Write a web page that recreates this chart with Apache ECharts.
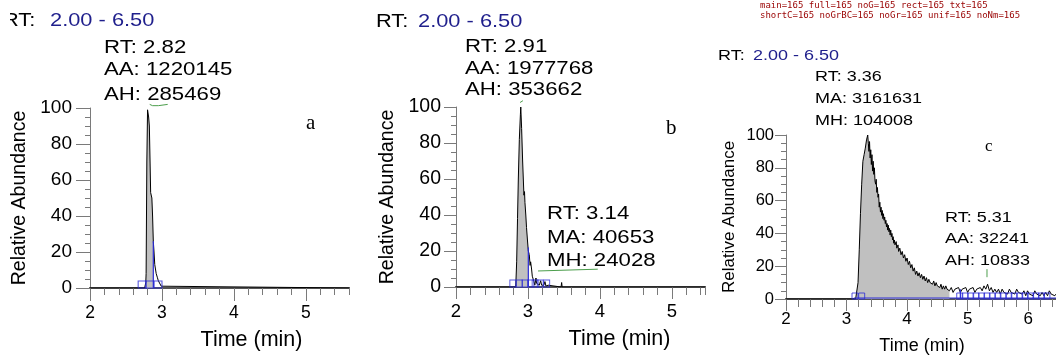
<!DOCTYPE html>
<html>
<head>
<meta charset="utf-8">
<script src="https://cdn.jsdelivr.net/npm/echarts@6.0.0/dist/echarts.min.js"></script>
<style>
  html, body { margin: 0; padding: 0; background: #fff; overflow: hidden; }
  #chart { width: 1056px; height: 356px; }
  .probe { width: 1056px; height: 356px; position: absolute; left: 0; top: 2000px; }
  #dbg { position: absolute; left: 760px; top: 0; font: 9px monospace; white-space: pre; color: #900; }
</style>
</head>
<body>
<div id="chart"></div>
<div id="probes"></div>
<div id="dbg"></div>
<script>
// ---- panel a : RT 2.82
const timeA  = [2.00, 2.76, 2.775, 2.78, 2.79, 2.80, 2.805, 2.815, 2.825, 2.835, 2.843, 2.86, 2.87, 2.88, 2.89, 2.90, 2.92, 2.935, 2.95, 2.97, 2.99, 3.01, 5.60];
const abundA = [0,    0,    3,     8,    70,   99,   100,   95,    90,    70,    53,    50,   40,   26,   20,   13,   8,    6,     4,    3,    1,    0,    0];
const fillA  = [2.775, 2.88];
const cutA   = [2.88, 26];
const boxesA = [2.725, 2.83, 2.945];
const greenAT = [2.83, 2.87, 2.95, 3.08];
const greenAV = [102, 101.3, 101.3, 102];

// ---- panel b : RT 2.91 / 3.14
const timeB  = [2.00, 2.83, 2.843, 2.855, 2.866, 2.88, 2.895, 2.90, 2.912, 2.926,
                2.944, 2.952, 2.958, 2.97, 2.98, 2.995, 3.005, 3.018, 3.03, 3.037,
                3.05, 3.06, 3.074, 3.083, 3.095, 3.111, 3.12, 3.13, 3.157, 3.176,
                3.19, 3.20, 3.22, 3.236, 3.25, 3.28, 3.305, 3.46, 3.468, 3.475, 5.46];
const abundB = [0, 0, 14, 38, 60, 82, 96, 100, 88, 70,
                51, 53, 47, 40, 33, 25, 20, 18, 12, 14,
                10, 6, 7, 3, 1, 5, 2, 2, 1, 3.5,
                1, 2, 1, 3, 0.5, 1, 0, 0, 2.5, 0, 0];
const fillB  = [2.83, 3.005];
const cutB   = [3.005, 22];
const boxesB = [2.79, 2.88, 2.96, 3.04, 3.10, 3.17, 3.26];
const greenB1T = [2.89, 2.93];
const greenB1V = [102.5, 103.5];
const greenB2T = [3.14, 3.97];
const greenB2V = [8.9, 9.9];

// ---- panel c : RT 3.36 / 5.31
const timeC = [
  2.00, 3.15, 3.17, 3.19, 3.21, 3.23, 3.25, 3.27, 3.29, 3.31,
  3.33, 3.35, 3.36, 3.37, 3.38, 3.39, 3.40, 3.41, 3.42, 3.43,
  3.44, 3.45, 3.46, 3.47, 3.48, 3.49, 3.50, 3.51, 3.52, 3.53,
  3.54, 3.55, 3.56, 3.57, 3.58, 3.59, 3.60, 3.61, 3.62, 3.63,
  3.64, 3.65, 3.66, 3.67, 3.68, 3.69, 3.70, 3.71, 3.72, 3.73,
  3.74, 3.75, 3.76, 3.77, 3.78, 3.79, 3.80, 3.82, 3.83, 3.85,
  3.86, 3.88, 3.90, 3.92, 3.94, 3.96, 3.98, 4.00, 4.02, 4.04,
  4.06, 4.08, 4.10, 4.12, 4.14, 4.16, 4.18, 4.20, 4.22, 4.24,
  4.26, 4.28, 4.30, 4.32, 4.34, 4.36, 4.38, 4.40, 4.42, 4.44,
  4.46, 4.48, 4.50, 4.52, 4.54, 4.56, 4.58, 4.60, 4.62, 4.64,
  4.66, 4.68, 4.70, 4.73, 4.76, 4.79, 4.82, 4.85, 4.88, 4.91,
  4.94, 4.97, 5.00, 5.03, 5.06, 5.09, 5.12, 5.15, 5.18, 5.21,
  5.24, 5.27, 5.30, 5.33, 5.36, 5.39, 5.42, 5.45, 5.48, 5.51,
  5.54, 5.57, 5.60, 5.63, 5.66, 5.69, 5.72, 5.75, 5.78, 5.81,
  5.84, 5.87, 5.90, 5.93, 5.96, 5.99, 6.02, 6.05, 6.08, 6.11,
  6.14, 6.17, 6.20, 6.23, 6.26, 6.29, 6.32, 6.35, 6.38, 6.41,
  6.44, 6.46];
const abundC = [
  0, 0, 1, 10, 30, 52, 70, 84, 88, 92,
  97, 100, 95, 90, 96, 86, 91, 82, 88, 78,
  84, 76, 80, 72, 70, 73, 65, 68, 62, 64,
  56, 59, 53, 56, 51, 54, 49, 52, 48, 50,
  46, 48, 44, 46, 42, 45, 41, 43, 39, 42,
  38, 40, 36, 38, 34, 36, 33, 35, 31, 33,
  29, 31, 27, 29, 25, 27, 23, 25, 21, 23,
  19, 21, 17, 19, 15, 17, 14, 16, 13, 15,
  12, 14, 11, 13, 10, 12, 10, 11, 9, 11,
  8, 10, 8, 9, 7, 9, 6, 8, 6, 8,
  6, 7, 5, 7, 4, 6, 5, 7, 4, 6,
  5, 7, 4, 6, 5, 7, 4, 6, 5, 7,
  5, 8, 6, 9, 5, 7, 4, 6, 4, 6,
  3, 6, 4, 5, 3, 6, 4, 5, 3, 6,
  4, 5, 3, 5, 2, 5, 3, 4, 2, 5,
  3, 4, 2, 4, 2, 4, 2, 5, 3, 4,
  2, 3];
const fillC  = [3.15, 4.70];
const cutC   = [4.88, 6];
const baseC  = [3.12, 6.46];
const boxesC = [3.14, 3.25, 4.87, 4.96, 5.05, 5.14, 5.23, 5.32, 5.41, 5.50,
                5.59, 5.68, 5.77, 5.86, 5.95, 6.04, 6.13, 6.22, 6.31];
const greenCT = [5.32, 5.32];
const greenCV = [13.3, 18.2];

const FONT = 'Liberation Sans, Arial, sans-serif';
const SERIF = 'Liberation Serif, Times New Roman, serif';
const BLUE = '#2a2ad6';
const GREEN = '#4c9e4c';
const AXIS_GRAY = '#7a7a7a';
const NAVY = '#1f1f8c';

const pts = (ts, vs) => ts.map((t, i) => [t, vs[i]]);
const between = (ts, vs, lo, hi) => pts(ts, vs).filter(d => d[0] >= lo && d[0] <= hi);

function txt(x, y, s, size, sx, color, family) {
  return {
    type: 'text', x: x, y: y, scaleX: sx || 1, z: 10,
    style: { text: s, fontSize: size, fontFamily: family || FONT, fill: color || '#000', verticalAlign: 'middle', align: 'left' }
  };
}

function makeOption(m) {
  m = m || {};
  const tc = m.shortC ? timeC.filter((t, i) => i % 10 === 0 || i < 12) : timeC;
  const vc = m.shortC ? abundC.filter((v, i) => i % 10 === 0 || i < 12) : abundC;
  const panels = [
    { grid: { left: 90, top: 108, width: 259, height: 185 }, max: 5.6,
      t: timeA, v: abundA, fill: fillA, cut: cutA, boxes: boxesA, box: [8, 7],
      greens: m.noGreens ? [] : [[greenAT, greenAV]],
      yFont: 19, yTick: 14, yMargin: 18, xFont: 17.5, xTick: 13, xMinor: 7, xMargin: 16,
      nameFont: 19.5, xNameFont: 21.5, yGap: 60, xGap: 41, xShift: 64 },
    { grid: { left: 456, top: 107, width: 249, height: 180 }, max: 5.46,
      t: timeB, v: abundB, fill: fillB, cut: cutB, boxes: boxesB, box: [6, 7],
      greens: (m.noGreens || m.noGreensBC) ? [] : [[greenB1T, greenB1V], [greenB2T, greenB2V]],
      yFont: 19.5, yTick: 12, yMargin: 15, xFont: 18.5, xTick: 12, xMinor: 8, xMargin: 15,
      nameFont: 19.5, xNameFont: 21.5, yGap: 58, xGap: 41, xShift: 78 },
    { grid: { left: 786, top: 135, width: 270, height: 165 }, max: 6.46,
      t: tc, v: vc, fill: fillC, cut: cutC, boxes: boxesC, box: [6, 6], base: baseC,
      greens: (m.noGreens || m.noGreensBC) ? [] : [[greenCT, greenCV]],
      yFont: 16.5, yTick: 11, yMargin: 12, xFont: 17, xTick: 12, xMinor: 8, xMargin: 12,
      nameFont: 17, xNameFont: 18, yGap: 48, xGap: 38, xShift: 2 }
  ];
  if (m.uniform) panels.forEach(p => Object.assign(p, { yFont: 19, yTick: 14, yMargin: 18, xFont: 17.5, xTick: 13, xMinor: 7, xMargin: 15, nameFont: 19.5, xNameFont: 21, yGap: 60, xGap: 41, xShift: 64 }));
  const grids = [], xAxes = [], yAxes = [], series = [];
  panels.forEach((p, i) => {
    grids.push(Object.assign({}, p.grid));
    xAxes.push({
      gridIndex: i, type: 'value', position: 'bottom', min: 2, max: p.max, interval: 1,
      axisLine: { show: true, onZero: false, lineStyle: { color: '#555', width: 2 } },
      axisTick: { show: true, length: p.xTick, lineStyle: { color: AXIS_GRAY, width: 1 } },
      axisLabel: { show: true, showMaxLabel: false, margin: p.xMargin, fontSize: p.xFont, color: '#000', fontFamily: FONT },
      splitLine: { show: false },
      name: m.noNames ? '' : 'Time (min)', nameLocation: 'middle', nameGap: p.xGap,
      nameTextStyle: { fontSize: p.xNameFont, color: '#000', fontFamily: FONT, padding: [0, 0, 0, p.xShift] }
    });
    xAxes.push({
      gridIndex: i, type: 'value', position: 'bottom', min: 2, max: p.max, interval: 0.2,
      axisLine: { show: true, onZero: false, lineStyle: { color: '#555', width: 2 } },
      axisTick: { show: true, length: p.xMinor, lineStyle: { color: AXIS_GRAY, width: 1 } },
      axisLabel: { show: false }, splitLine: { show: false }
    });
    yAxes.push({
      gridIndex: i, type: 'value', position: 'left', min: 0, max: 100, interval: 20,
      axisLine: { show: true, onZero: false, lineStyle: { color: AXIS_GRAY, width: 1 } },
      axisTick: { show: true, length: p.yTick, lineStyle: { color: AXIS_GRAY, width: 1 } },
      minorTick: { show: true, splitNumber: 4, length: 5, lineStyle: { color: AXIS_GRAY, width: 1 } },
      axisLabel: { show: true, margin: p.yMargin, fontSize: p.yFont, color: '#000', fontFamily: FONT },
      splitLine: { show: false },
      name: m.noNames ? '' : 'Relative Abundance', nameLocation: 'middle', nameGap: p.yGap,
      nameTextStyle: { fontSize: p.nameFont, color: '#000', fontFamily: FONT }
    });
    const ax = { xAxisIndex: 2 * i, yAxisIndex: i };
    series.push(Object.assign({ type: 'line', data: between(p.t, p.v, p.fill[0], p.fill[1]), showSymbol: false, silent: true,
      lineStyle: { width: 0, opacity: 0 }, areaStyle: { color: '#c0c0c0', opacity: 1 }, z: 1 }, ax));
    series.push(Object.assign({ type: 'line', data: pts(p.t, p.v), showSymbol: false, silent: true,
      lineStyle: { color: '#000', width: 1 }, z: 3 }, ax));
    if (p.base) series.push(Object.assign({ type: 'line', data: [[p.base[0], 0.6], [p.base[1], 0.6]], showSymbol: false, silent: true,
      lineStyle: { color: BLUE, width: 1 }, z: 4 }, ax));
    series.push(Object.assign({ type: 'line', data: [[p.cut[0], 0], [p.cut[0], p.cut[1]]], showSymbol: false, silent: true,
      lineStyle: { color: BLUE, width: 1.2 }, z: 4 }, ax));
    series.push(Object.assign({ type: 'scatter', data: p.boxes.map(t => [t, 0]), symbol: 'rect', symbolSize: p.box,
      symbolOffset: [0, -p.box[1] / 2], silent: true,
      itemStyle: { color: 'rgba(0,0,0,0)', borderColor: BLUE, borderWidth: 1 }, z: 5 }, ax));
    p.greens.forEach(g => series.push(Object.assign({ type: 'line', data: pts(g[0], g[1]), showSymbol: false, silent: true, clip: false,
      lineStyle: { color: GREEN, width: 1 }, z: 5 }, ax)));
  });
  const rect = { type: 'rect', shape: { x: 0, y: 6, width: 10, height: 30 }, style: { fill: '#fff' }, z: 11 };
  const texts = [
    txt(3, 21, 'RT:', 18.5, 1.18), txt(50, 21, '2.00 - 6.50', 18.5, 1.18, NAVY),
    txt(104, 48, 'RT: 2.82', 18.5, 1.2), txt(104, 70, 'AA: 1220145', 18.5, 1.2), txt(104, 95, 'AH: 285469', 18.5, 1.2),
    txt(306, 123, 'a', 21, 1, '#000', SERIF),
    txt(376, 21.5, 'RT:', 18.5, 1.18), txt(418, 21.5, '2.00 - 6.50', 18.5, 1.18, NAVY),
    txt(465, 47, 'RT: 2.91', 18.5, 1.2), txt(465, 68.5, 'AA: 1977768', 18.5, 1.2), txt(465, 90, 'AH: 353662', 18.5, 1.2),
    txt(666, 128, 'b', 21, 1, '#000', SERIF),
    txt(547, 214, 'RT: 3.14', 18.5, 1.2), txt(547, 238, 'MA: 40653', 18.5, 1.2), txt(547, 261, 'MH: 24028', 18.5, 1.2),
    txt(718, 56, 'RT:', 15.5, 1.16), txt(753, 56, '2.00 - 6.50', 15.5, 1.16, NAVY),
    txt(815, 77, 'RT: 3.36', 15.5, 1.16), txt(815, 99, 'MA: 3161631', 15.5, 1.16), txt(815, 121, 'MH: 104008', 15.5, 1.16),
    txt(985, 147, 'c', 17, 1, '#000', SERIF),
    txt(945, 217.5, 'RT: 5.31', 15.5, 1.16), txt(945, 239, 'AA: 32241', 15.5, 1.16), txt(945, 261, 'AH: 10833', 15.5, 1.16)
  ];
  const opt = { backgroundColor: '#fff', animation: false, grid: grids, xAxis: xAxes, yAxis: yAxes, series: series };
  if (!m.noGraphic) opt.graphic = m.rectOnly ? [rect] : (m.txtOnly ? texts : texts.concat([rect]));
  return opt;
}

const chart = echarts.init(document.getElementById('chart'));
chart.setOption(makeOption({}));

// diagnostic probes: which part of the option hides the axis lines?
const variants = { full: {}, noG: { noGraphic: true }, rect: { rectOnly: true }, txt: { txtOnly: true }, shortC: { shortC: true },
  noGrBC: { noGreensBC: true }, noGr: { noGreens: true }, unif: { uniform: true }, noNm: { noNames: true } };
const charts = {};
Object.keys(variants).forEach(k => {
  const d = document.createElement('div'); d.className = 'probe'; document.getElementById('probes').appendChild(d);
  charts[k] = echarts.init(d);
  try { charts[k].setOption(makeOption(variants[k])); } catch (e) { charts[k].err = e.message; }
});
function hasAxis(ch) {
  const cv = ch.getDom().querySelector('canvas');
  const d = cv.getContext('2d').getImageData(80, 150, 20, 100).data;
  let n = 0;
  for (let i = 0; i < d.length; i += 4) if (d[i] > 90 && d[i] < 150 && d[i] === d[i + 1] && d[i] === d[i + 2]) n++;
  return n;
}
setTimeout(() => {
  const parts = ['main=' + hasAxis(chart)];
  Object.keys(charts).forEach(k => parts.push(k + '=' + hasAxis(charts[k]) + (charts[k].err ? '!' + charts[k].err : '')));
  document.getElementById('dbg').textContent = parts.slice(0, 5).join(' ') + '\n' + parts.slice(5).join(' ');
}, 300);
</script>
</body>
</html>
